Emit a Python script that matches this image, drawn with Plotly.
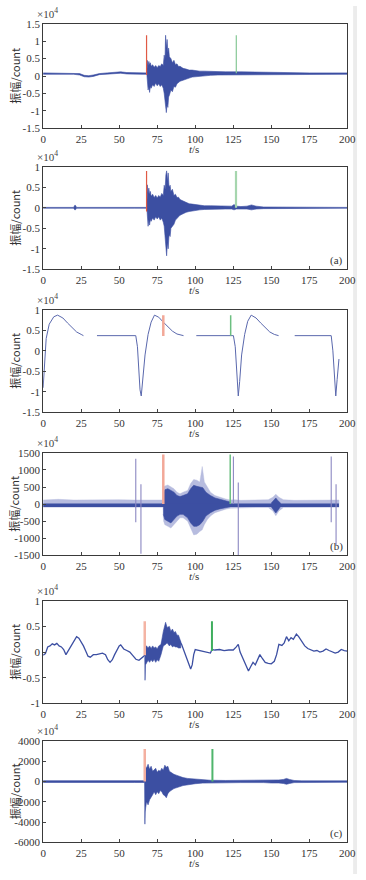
import plotly.graph_objects as go

# ---------------- data ----------------
x_ticks = [0, 25, 50, 75, 100, 125, 150, 175, 200]
x_ticktext = ["0", "25", "50", "75", "100", "125", "150", "175", "200"]

# panel 1 (x10^4 counts) envelope of the waveform
t1 = [0, 20, 24, 27, 30, 33, 37, 42, 47, 51, 55, 60, 65, 68.2,
      68.5, 69, 69.5, 70, 70.5, 71, 72, 73, 74, 75, 76, 77, 78, 79,
      79.6, 80.1, 80.5, 81, 81.5, 82, 82.5, 83, 84, 85, 86, 87, 88, 89,
      90, 92, 94, 96, 98, 100, 103, 106, 110, 115, 120, 130, 140, 150,
      160, 175, 190, 200]
hi1 = [0.09, 0.09, 0.07, 0.02, 0.01, 0.03, 0.07, 0.09, 0.11, 0.12, 0.1, 0.09, 0.09, 0.09,
       0.45, 0.3, 0.42, 0.33, 0.38, 0.28, 0.32, 0.25, 0.3, 0.24, 0.3, 0.27, 0.35, 0.3,
       0.6, 0.45, 1.17, 0.8, 1.05, 0.7, 0.8, 0.55, 0.5, 0.38, 0.45, 0.32, 0.35, 0.27,
       0.28, 0.22, 0.2, 0.17, 0.17, 0.15, 0.14, 0.14, 0.13, 0.13, 0.12, 0.12, 0.11, 0.1,
       0.09, 0.09, 0.09, 0.09]
lo1 = [0.05, 0.05, 0.03, -0.02, -0.03, -0.01, 0.04, 0.05, 0.07, 0.08, 0.06, 0.05, 0.05, 0.05,
       -0.1, -0.4, -0.3, -0.47, -0.3, -0.35, -0.25, -0.3, -0.2, -0.28, -0.22, -0.3, -0.25, -0.35,
       -0.5, -0.6, -0.75, -1.05, -0.8, -0.9, -0.6, -0.55, -0.4, -0.45, -0.3, -0.32, -0.22, -0.2,
       -0.15, -0.12, -0.08, -0.06, -0.03, -0.02, 0.0, 0.01, 0.02, 0.03, 0.04, 0.04, 0.05, 0.05,
       0.05, 0.05, 0.05, 0.05]

# panel 2 (x10^4 counts)
t2 = [0, 20, 20.8, 21.2, 22, 40, 60,
      68.2, 68.5, 69, 69.5, 70, 70.5, 71,
      72, 73, 74, 75, 76, 77, 78,
      79, 79.6, 80.2, 80.7, 81.2, 81.7, 82.2,
      82.8, 83.5, 84, 85, 86, 87, 88,
      89, 90, 92, 94, 96, 98, 100,
      103, 106, 110, 115, 120, 124, 125.5,
      127, 130, 134, 137, 140, 145, 150,
      160, 175, 190, 200]
hi2 = [0.01, 0.01, 0.06, 0.06, 0.01, 0.01, 0.01,
       0.01, 0.56, 0.35, 0.48, 0.33, 0.4, 0.28,
       0.33, 0.25, 0.3, 0.24, 0.3, 0.26, 0.35,
       0.3, 0.55, 0.45, 0.8, 0.9, 0.65, 0.85,
       0.5, 0.55, 0.4, 0.45, 0.3, 0.33, 0.25,
       0.26, 0.2, 0.16, 0.14, 0.1, 0.09, 0.08,
       0.06, 0.05, 0.05, 0.04, 0.04, 0.04, 0.08,
       0.04, 0.03, 0.04, 0.07, 0.04, 0.02, 0.02,
       0.01, 0.01, 0.01, 0.01]
lo2 = [-0.01, -0.01, -0.05, -0.05, -0.01, -0.01, -0.01,
       -0.01, -0.1, -0.45, -0.3, -0.42, -0.28, -0.33,
       -0.25, -0.3, -0.22, -0.27, -0.22, -0.3, -0.25,
       -0.35, -0.45, -0.6, -0.9, -1.17, -0.85, -1.0,
       -0.65, -0.7, -0.5, -0.45, -0.4, -0.3, -0.25,
       -0.22, -0.18, -0.14, -0.11, -0.09, -0.07, -0.06,
       -0.05, -0.04, -0.04, -0.03, -0.03, -0.03, -0.05,
       -0.03, -0.02, -0.03, -0.05, -0.03, -0.02, -0.02,
       -0.01, -0.01, -0.01, -0.01]

# panel 3 (x10^4 counts) line with gaps
t3 = [0, 1, 2, 4, 7, 9.5, 13, 16, 19, 22, 25, 26.5, None,
      35.4, 50, 60.9, 62, 63, 63.7, 64.5, 65.5, 67, 69, 71, 73.2, 76, 79, 82, 85, 88, 91, 92.3, None,
      100.7, 115, 125.1, 126.3, 127.4, 128.3, 129.2, 130.5, 132.5, 134.5, 136.8, 140, 143,
      146, 149, 152, 154.8, None,
      165.4, 178, 189.4, 190.5, 191.5, 192.4, 193.3, 194.5]
y3 = [-0.9, -0.2, 0.3, 0.65, 0.83, 0.87, 0.8, 0.68, 0.56, 0.46, 0.4, 0.37, None,
      0.37, 0.37, 0.37, 0.1, -0.5, -0.95, -1.1, -0.75, -0.1, 0.4, 0.7, 0.87, 0.82, 0.7, 0.58,
      0.48, 0.41, 0.38, 0.37, None,
      0.37, 0.37, 0.37, 0.1, -0.5, -1.1, -0.75, -0.1, 0.4, 0.72, 0.87, 0.8, 0.68, 0.56, 0.46,
      0.4, 0.37, None,
      0.37, 0.37, 0.37, 0.0, -0.6, -1.1, -0.7, -0.2]

# panel 4 (counts): outer (light) envelope, dark burst cores, dark baseline, spikes
t4 = [0, 10, 20, 30, 40, 50, 60, 70, 78.8, 79.2, 80, 82, 84, 86, 88, 90, 92, 95, 97, 99, 101,
      103, 104.6, 106, 108, 110, 113, 116, 120, 123, 126, 130, 140, 148, 151, 153, 155, 158,
      165, 175, 185, 194.5]
hi4 = [120, 140, 120, 130, 120, 130, 120, 120, 120, 500, 530, 560, 500, 450, 350, 300, 350,
       400, 600, 720, 700, 650, 1100, 650, 500, 350, 250, 200, 150, 120, 130, 110, 120, 130,
       200, 290, 200, 130, 110, 110, 120, 120]
lo4 = [-90, -90, -90, -90, -90, -90, -90, -90, -90, -500, -600, -650, -700, -600, -500, -400,
       -400, -500, -700, -900, -880, -800, -750, -600, -450, -350, -250, -200, -150, -120, -100,
       -100, -100, -100, -200, -340, -200, -100, -90, -90, -90, -90]
t4b = [79, 80, 82, 84, 86, 88, 90, 92, 95, 97, 99, 101, 103, 105, 107, 110, 113, 116, 120, 123]
hi4b = [300, 420, 450, 400, 350, 250, 220, 250, 300, 450, 550, 520, 500, 480, 350, 250, 180,
        140, 100, 60]
lo4b = [-300, -450, -500, -550, -450, -350, -300, -300, -400, -550, -650, -650, -600, -500,
        -350, -250, -180, -140, -100, -80]
t4c = [150, 152, 153, 154, 156]
hi4c = [30, 120, 180, 120, 30]
lo4c = [-80, -200, -260, -200, -80]
base4 = -30
spk4_t = [60.9, 64.3, 125.1, 128.3, 189.4, 192.6]
spk4_hi = [1330, 580, 1390, 630, 1390, 580]
spk4_lo = [-530, -1450, 0, -1500, -530, -1200]

# panel 5 (x10^4 counts) line + burst envelope
t5 = [0, 1.5, 3, 4.5, 6, 7.5, 9, 10.5, 12, 13.5, 15, 16.5, 18, 20, 22, 23.5, 25, 26.5, 28,
      29.5, 31, 33, 35, 37, 39, 41, 42.5, 44, 45.5, 47, 48.5, 50, 51, 53, 55, 57, 59, 61, 63,
      65, 67, 70, 73, 76, 78, 80, 83, 86, 89, 91, 93, 95, 97, 98, 99, 100, 103, 106, 108, 110,
      111, 113, 116, 119, 122, 125, 127, 128.3, 129.5, 131, 133, 135, 136.5, 138, 139.5, 141,
      142.5, 144, 146, 148, 150, 152, 153.5, 155, 157, 158.5, 160, 161.5, 163, 164.5, 166.5,
      168, 170, 172, 174, 176, 178, 180, 182, 184, 186, 188, 190, 192, 194, 196, 198, 200]
y5 = [-0.06, -0.03, 0.1, 0.12, 0.16, 0.14, 0.17, 0.12, 0.1, 0.05, -0.05, 0.02, 0.1, 0.2, 0.3,
      0.27, 0.2, 0.12, 0.02, -0.08, -0.1, -0.05, -0.05, -0.03, -0.02, -0.05, -0.15, -0.2,
      -0.15, -0.05, 0.05, 0.12, 0.14, 0.06, 0.03, 0.0, -0.07, -0.14, -0.16, -0.1, -0.06, -0.05,
      -0.05, -0.05, 0.15, 0.35, 0.3, 0.28, 0.25, 0.15, 0.0, -0.15, -0.33, -0.25, -0.05, 0.05,
      0.03, 0.02, 0.0, -0.02, 0.05, 0.04, 0.05, 0.03, 0.04, 0.04, 0.1, 0.15, 0.0, -0.1, -0.25,
      -0.37, -0.28, -0.2, -0.25, -0.15, -0.05, -0.12, -0.2, -0.22, -0.23, -0.18, -0.05, 0.15,
      0.13, 0.18, 0.3, 0.22, 0.28, 0.25, 0.35, 0.3, 0.22, 0.12, 0.07, 0.05, 0.02, 0.03, 0.0,
      0.02, 0.06, 0.03, 0.0, -0.02, 0.0, 0.05, 0.03, 0.02]
t5b = [66.8, 67, 67.3, 68, 69, 70, 71, 72, 73, 74, 75, 76, 77.5, 79, 80.5, 81.5, 83, 84, 85,
       86, 87, 88, 89, 90.5]
hi5b = [-0.05, 0.25, 0.12, 0.12, 0.08, 0.12, 0.07, 0.12, 0.08, 0.1, 0.06, 0.12, 0.15, 0.4,
        0.58, 0.48, 0.5, 0.4, 0.45, 0.38, 0.4, 0.33, 0.33, 0.2]
lo5b = [-0.1, -0.55, -0.25, -0.2, -0.16, -0.2, -0.15, -0.19, -0.14, -0.2, -0.15, -0.18, -0.05,
        0.12, 0.15, 0.18, 0.12, 0.15, 0.1, 0.12, 0.1, 0.1, 0.08, 0.08]

# panel 6 (counts)
t6 = [0, 30, 60, 66.7, 66.9, 67.1, 67.4, 68, 69, 70, 71, 72, 73, 74, 75, 76, 77, 78, 79, 80,
      81, 82, 83, 84, 86, 88, 90, 92, 95, 100, 105, 110, 120, 130, 145, 150, 155, 158, 160,
      162, 165, 170, 185, 200]
hi6 = [80, 80, 80, 80, 2700, 2000, 1500, 1300, 1700, 1200, 1500, 1000, 1200, 1300, 900, 1100,
       1000, 1300, 1100, 1600, 1400, 1500, 1000, 900, 700, 600, 450, 380, 300, 220, 160, 120,
       100, 100, 100, 150, 150, 200, 300, 200, 100, 60, 60, 60]
lo6 = [-100, -100, -100, -100, -4200, -3000, -2600, -2000, -2300, -1800, -1500, -1300, -1000,
       -1300, -1000, -1200, -900, -1000, -1300, -1400, -1600, -1200, -1000, -900, -700, -600,
       -500, -400, -300, -220, -160, -130, -110, -110, -110, -150, -150, -200, -280, -200, -110,
       -80, -80, -80]

# picking markers: (t, bottom, top) for red (P) and green (S) in each panel
red_marks = [(68.0, 0.03, 1.17), (68.0, -0.09, 0.9), (79.0, 0.36, 0.87),
             (79.0, 0, 1450), (66.8, -0.06, 0.6), (66.8, 0, 3200)]
green_marks = [(127.0, 0.08, 1.17), (126.8, 0.0, 0.9), (123.3, 0.37, 0.87),
               (123.0, 0, 1450), (111.0, 0.02, 0.6), (111.3, 0, 3200)]

y_ranges = [(-1.5, 1.5), (-1.5, 1.0), (-1.5, 1.0), (-1500, 1500), (-1.0, 1.0), (-6000, 4000)]
y_ticks = [[-1.5, -1, -0.5, 0, 0.5, 1, 1.5],
           [-1.5, -1, -0.5, 0, 0.5, 1],
           [-1.5, -1, -0.5, 0, 0.5, 1],
           [-1500, -1000, -500, 0, 500, 1000, 1500],
           [-1, -0.5, 0, 0.5, 1],
           [-6000, -4000, -2000, 0, 2000, 4000]]
y_ticktext = [["-1.5", "-1", "-0.5", "0", "0.5", "1", "1.5"],
              ["-1.5", "-1", "-0.5", "0", "0.5", "1"],
              ["-1.5", "-1", "-0.5", "0", "0.5", "1"],
              ["-1500", "-1000", "-500", "0", "500", "1000", "1500"],
              ["-1", "-0.5", "0", "0.5", "1"],
              ["-6000", "-4000", "-2000", "0", "2000", "4000"]]
panel_tags = [None, "(a)", None, "(b)", None, "(c)"]
y_title = "振幅/count"
x_title = "<i>t</i>/s"
exp_label = "×10<sup>4</sup>"

# ---------------- styling ----------------
W, H = 366, 880
BLUE = "#3c4fa2"
LIGHT = "#b7bcdf"
LINE3 = "#5a68ad"
RED = ["#e05a45", "#e05a45", "#f2a898", "#f2a898", "#f4b4a4", "#f4b0a0"]
GREEN = ["#86c896", "#a6d6ae", "#6cbf80", "#6cbf80", "#3fae5e", "#4fb56c"]
RED_W = [1.2, 1.2, 2.5, 2.5, 2.5, 2.5]
GREEN_W = [1.2, 2.2, 1.5, 1.5, 2.0, 2.0]
SERIF = "Liberation Serif, Times New Roman, serif"
panel_px = [(18, 124), (163, 267), (308, 412), (453, 557), (603, 707), (745, 848)]
x_left, x_right = 41.5, 356.0

fig = go.Figure()


def axn(i):
    return ("x" if i == 0 else f"x{i+1}"), ("y" if i == 0 else f"y{i+1}")


def band(i, t, hi, lo, color=BLUE, width=0.6):
    xa, ya = axn(i)
    fig.add_trace(go.Scatter(x=list(t) + list(t)[::-1], y=list(hi) + list(lo)[::-1],
                             fill="toself", fillcolor=color, mode="lines",
                             line=dict(color=color, width=width),
                             xaxis=xa, yaxis=ya, hoverinfo="skip", showlegend=False))


def line(i, t, y, color, width):
    xa, ya = axn(i)
    fig.add_trace(go.Scatter(x=t, y=y, mode="lines", line=dict(color=color, width=width),
                             connectgaps=False, xaxis=xa, yaxis=ya, hoverinfo="skip",
                             showlegend=False))


def vlines(i, ts, los, his, color, width):
    xs, ys = [], []
    for t, a, b in zip(ts, los, his):
        xs += [t, t, None]
        ys += [a, b, None]
    line(i, xs, ys, color, width)


band(0, t1, hi1, lo1)
band(1, t2, hi2, lo2)
line(2, t3, y3, LINE3, 1.0)
band(3, t4, hi4, lo4, color=LIGHT, width=0.4)
band(3, t4b, hi4b, lo4b)
band(3, t4c, hi4c, lo4c)
line(3, [t4[0], t4[-1]], [base4, base4], BLUE, 3.5)
vlines(3, spk4_t, spk4_lo, spk4_hi, "#8c88c2", 1.1)
line(4, t5, y5, BLUE, 1.3)
band(4, t5b, hi5b, lo5b)
band(5, t6, hi6, lo6)

for i in range(6):
    rt, rlo, rhi = red_marks[i]
    gt, glo, ghi = green_marks[i]
    vlines(i, [rt], [rlo], [rhi], RED[i], RED_W[i])
    vlines(i, [gt], [glo], [ghi], GREEN[i], GREEN_W[i])

annotations = []
layout = dict(width=W, height=H, margin=dict(l=0, r=0, t=0, b=0),
              paper_bgcolor="white", plot_bgcolor="white", showlegend=False)

for i in range(6):
    top, bot = panel_px[i]
    xa_key = "xaxis" if i == 0 else f"xaxis{i+1}"
    ya_key = "yaxis" if i == 0 else f"yaxis{i+1}"
    xa, ya = axn(i)
    layout[xa_key] = dict(domain=[x_left / W, x_right / W], range=[0, 200], anchor=ya,
                          tickvals=x_ticks, ticktext=x_ticktext, ticks="inside", ticklen=3,
                          tickcolor="#444", showline=True, mirror=True, linecolor="#3a3a3a",
                          linewidth=1, showgrid=False, zeroline=False,
                          ticklabeloverflow="allow",
                          tickfont=dict(family=SERIF, size=11, color="#333"))
    layout[ya_key] = dict(domain=[1 - bot / H, 1 - top / H], range=list(y_ranges[i]), anchor=xa,
                          tickvals=y_ticks[i], ticktext=y_ticktext[i], ticks="inside",
                          ticklen=3, tickcolor="#444", showline=True, mirror=True,
                          linecolor="#3a3a3a", linewidth=1, showgrid=False, zeroline=False,
                          ticklabeloverflow="allow",
                          tickfont=dict(family=SERIF, size=11, color="#333"))
    annotations.append(dict(text=exp_label, x=46 / W, y=1 - (top - 11) / H, xref="paper",
                            yref="paper", showarrow=False, xanchor="center", yanchor="middle",
                            font=dict(family=SERIF, size=11, color="#444")))
    annotations.append(dict(text=y_title, x=12 / W, y=1 - ((top + bot) / 2) / H, xref="paper",
                            yref="paper", showarrow=False, textangle=-90, xanchor="center",
                            yanchor="middle",
                            font=dict(family="Noto Sans CJK SC, " + SERIF, size=11,
                                      color="#333")))
    annotations.append(dict(text=x_title, x=197 / W, y=1 - (bot + 21) / H, xref="paper",
                            yref="paper", showarrow=False, xanchor="center", yanchor="middle",
                            font=dict(family=SERIF, size=11, color="#333")))
    if panel_tags[i]:
        annotations.append(dict(text=panel_tags[i], x=345 / W, y=1 - (bot - 9) / H,
                                xref="paper", yref="paper", showarrow=False, xanchor="center",
                                yanchor="middle", font=dict(family=SERIF, size=11, color="#333")))

layout["annotations"] = annotations
layout["shapes"] = [dict(type="rect", xref="paper", yref="paper", x0=362 / W, x1=1, y0=0, y1=1,
                         fillcolor="#ececec", line=dict(width=0), layer="below")]
fig.update_layout(**layout)
fig.write_html("out.html", config={"displayModeBar": False, "staticPlot": True},
               post_script="document.body.style.margin='0px';"
                           "document.body.style.overflow='hidden';")
